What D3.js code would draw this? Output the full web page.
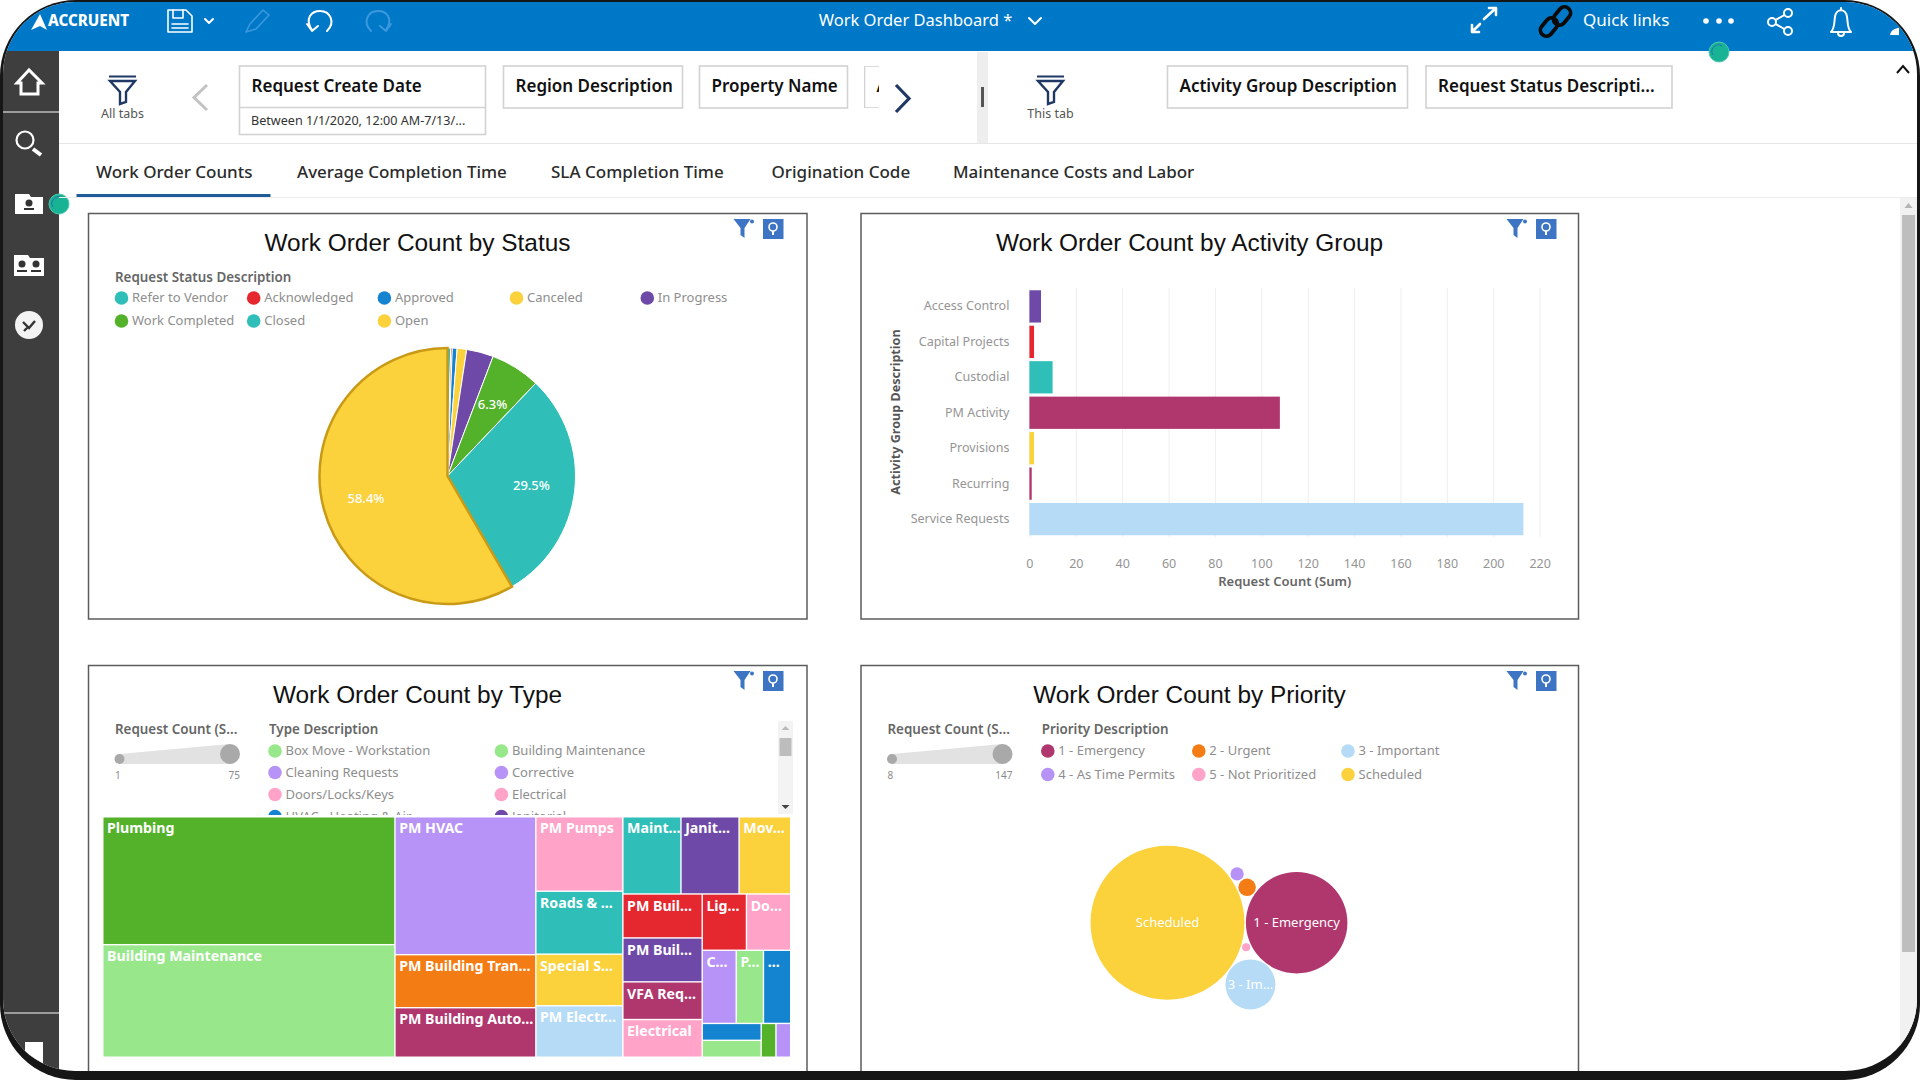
<!DOCTYPE html>
<html>
<head>
<meta charset="utf-8">
<title>Work Order Dashboard</title>
<script src="https://d3js.org/d3.v7.min.js"></script>
<style>
    html, body { margin: 0; padding: 0; background: #fff; overflow: hidden; }
    text { font-family: "Noto Sans", sans-serif; }
    .title { font-family: "Liberation Sans", sans-serif; font-size: 24.4px; fill: #111; text-anchor: middle; }
    .legendTitle { font-size: 13.4px; font-weight: 600; fill: #666; }
    .legendText { font-size: 13px; fill: #8e8e8e; }
    .tab { font-size: 17px; font-weight: 500; fill: #2b2b2b; }
    .filter { font-size: 17px; font-weight: 600; fill: #111; }
</style>
</head>
<body>
<div id="graph"></div>
<script>
var width = 1920;
var height = 1080;

var green = '#54b22a', lightGreen = '#98e88b', lilac = '#b792f7', pink = '#ffa3c9', orange = '#f47c14',
    magenta = '#b0366e', teal = '#2fbfb8', yellow = '#fbd13c', lightBlue = '#b5dbf7', purple = '#6f49a8',
    red = '#e5282f', blue = '#1484d0';

// pie
var statusNames = ['Refer to Vendor', 'Acknowledged', 'Approved', 'Canceled', 'In Progress', 'Work Completed', 'Closed', 'Open'];
var statusPercents = [0.4, 0.2, 0.6, 1.2, 3.4, 6.3, 29.5, 58.4];
var statusColors = [teal, red, blue, yellow, purple, green, teal, yellow];

// bars
var activityNames = ['Access Control', 'Capital Projects', 'Custodial', 'PM Activity', 'Provisions', 'Recurring', 'Service Requests'];
var activityCounts = [5, 2, 10, 108, 2, 1, 213];
var activityColors = [purple, red, teal, magenta, yellow, magenta, lightBlue];
var activityTicks = [0, 20, 40, 60, 80, 100, 120, 140, 160, 180, 200, 220];

// treemap
var typeLabels = ['Plumbing', 'Building Maintenance', 'PM HVAC', 'PM Building Tran...', 'PM Building Auto...',
    'PM Pumps', 'Roads & ...', 'Special S...', 'PM Electr...', 'Maint...', 'Janit...', 'Mov...',
    'PM Buil...', 'PM Buil...', 'VFA Req...', 'Electrical', 'Lig...', 'Do...', 'C...', 'P...', '...', '', '', '', ''];
var typeCounts = [75, 66, 39, 15, 14, 13, 11, 9, 9, 9, 9, 8, 7, 7, 6, 6, 5, 5, 5, 4, 4, 2, 2, 1, 1];
var typeColors = [green, lightGreen, lilac, orange, magenta, pink, teal, yellow, lightBlue, teal, purple, yellow,
    red, purple, magenta, pink, red, pink, lilac, lightGreen, blue, blue, lightGreen, green, lilac];
// indexes into the type arrays, nested the way the tiles are grouped
var typeGroups = [[0, 1], [2, 3, 4], [5, 6, 7, 8],
    [[9, 10, 11], [[12, 13, 14, 15], [[16, 17], [18, 19, 20], [[21, 22], 23, 24]]]]];
var typeLegend = ['Box Move - Workstation', 'Building Maintenance', 'Cleaning Requests', 'Corrective',
    'Doors/Locks/Keys', 'Electrical', 'HVAC - Heating & Air', 'Janitorial'];
var typeLegendColors = [lightGreen, lightGreen, lilac, lilac, pink, pink, blue, purple];

// bubbles
var priorityNames = ['Scheduled', '1 - Emergency', '3 - Important', '2 - Urgent', '4 - As Time Permits', '5 - Not Prioritized'];
var priorityCounts = [147, 97, 48, 17, 13, 8];
var priorityColors = [yellow, magenta, lightBlue, orange, lilac, pink];
var priorityLabels = ['Scheduled', '1 - Emergency', '3 - Im...', '', '', ''];
var priorityLegend = ['1 - Emergency', '2 - Urgent', '3 - Important', '4 - As Time Permits', '5 - Not Prioritized', 'Scheduled'];
var priorityLegendColors = [magenta, orange, lightBlue, lilac, pink, yellow];

var tabNames = ['Work Order Counts', 'Average Completion Time', 'SLA Completion Time', 'Origination Code', 'Maintenance Costs and Labor'];

var svg = d3.select('#graph')
    .append('svg')
    .attr('width', width)
    .attr('height', height)
    .style('display', 'block');

var defs = svg.append('defs');
defs.append('clipPath').attr('id', 'screen')
    .append('rect').attr('x', 3).attr('y', 2).attr('width', 1914).attr('height', 1069).attr('rx', 72);
defs.append('clipPath').attr('id', 'legendClip')
    .append('rect').attr('x', 262).attr('y', 720).attr('width', 510).attr('height', 95);
defs.append('clipPath').attr('id', 'chipClip')
    .append('rect').attr('x', 864).attr('y', 66).attr('width', 15).attr('height', 42);

// black frame of the screenshot
svg.append('rect').attr('x', 0).attr('y', 0).attr('width', width).attr('height', height).attr('rx', 76).attr('fill', '#161616');
var screen = svg.append('g').attr('clip-path', 'url(#screen)');
screen.append('rect').attr('width', width).attr('height', height).attr('fill', '#fff');

drawTopBar();
drawSideBar();
drawFilters();
drawTabs();

var card1 = drawCard(88.5, 213.5, 718.5, 405.5, 'Work Order Count by Status', 417.5, 242, 733.5);
var card2 = drawCard(861, 213.5, 717.5, 405.5, 'Work Order Count by Activity Group', 1189.5, 242, 1506.5);
var card3 = drawCard(88.5, 665.5, 718.5, 440, 'Work Order Count by Type', 417.5, 694, 733.5);
var card4 = drawCard(861, 665.5, 717.5, 440, 'Work Order Count by Priority', 1189.5, 694, 1506.5);

drawPie();
drawBars();
drawTreemap();
drawBubbles();

function drawCard(x, y, w, h, title, titleX, titleY, ix) {
    screen.append('rect').attr('x', x).attr('y', y).attr('width', w).attr('height', h)
        .attr('fill', '#fff').attr('stroke', '#5c5c5c').attr('stroke-width', 1.5);
    screen.append('text').attr('class', 'title').attr('x', titleX).attr('y', titleY).attr('dy', '0.35em').text(title);
    // funnel and bulb buttons
    var iy = y + 5.5;
    screen.append('path').attr('fill', '#3d75c4')
        .attr('d', 'M' + ix + ' ' + iy + 'h17l-6 9v10l-4-3v-7z');
    screen.append('circle').attr('cx', ix + 18.5).attr('cy', iy + 2.5).attr('r', 2).attr('fill', '#3d75c4');
    screen.append('rect').attr('x', ix + 29.5).attr('y', iy).attr('width', 20.5).attr('height', 20).attr('fill', '#3d75c4');
    screen.append('circle').attr('cx', ix + 39.5).attr('cy', iy + 8).attr('r', 4).attr('fill', 'none').attr('stroke', '#fff').attr('stroke-width', 1.6);
    screen.append('line').attr('x1', ix + 39.5).attr('x2', ix + 39.5).attr('y1', iy + 12).attr('y2', iy + 16).attr('stroke', '#fff').attr('stroke-width', 2);
    return screen.append('g');
}

function legend(g, names, colors, columns, rows, clip) {
    var item = g.append('g').attr('clip-path', clip || null)
        .selectAll('g').data(names).enter().append('g')
        .attr('transform', function(d, i) {
            return 'translate(' + columns[i % columns.length] + ',' + rows[Math.floor(i / columns.length)] + ')';
        });
    item.append('circle').attr('r', 6.8).attr('fill', function(d, i) { return colors[i]; });
    item.append('text').attr('class', 'legendText').attr('x', 10.5).attr('dy', '0.32em').text(function(d) { return d; });
}

function sizeLegend(g, x, minLabel, maxLabel) {
    var sx = x + 4.5, bx = x + 115;
    g.append('path').attr('fill', '#e2e2e2')
        .attr('d', 'M' + sx + ' 754L' + bx + ' 744V764L' + sx + ' 764z');
    g.append('circle').attr('cx', sx).attr('cy', 759).attr('r', 5).attr('fill', '#a9a9a9');
    g.append('circle').attr('cx', bx).attr('cy', 754).attr('r', 10).attr('fill', '#a9a9a9');
    g.append('text').attr('x', x).attr('y', 775).attr('dy', '0.35em').style('font-size', '10px').attr('fill', '#8a8a8a').text(minLabel);
    g.append('text').attr('x', bx + 10).attr('y', 775).attr('dy', '0.35em').attr('text-anchor', 'end').style('font-size', '10px').attr('fill', '#8a8a8a').text(maxLabel);
}

function drawPie() {
    var centerX = 447.5, centerY = 476, radius = 128;
    var g = card1.append('g');
    g.append('text').attr('class', 'legendTitle').attr('x', 115).attr('y', 277).attr('dy', '0.35em').text('Request Status Description');
    legend(g, statusNames, statusColors, [121.5, 253.7, 384.4, 516.5, 647.3], [298, 321]);

    var pie = d3.pie().sort(null);
    var arc = d3.arc().innerRadius(0).outerRadius(radius);
    var labelArc = d3.arc().innerRadius(radius * 0.66).outerRadius(radius * 0.66);
    var arcs = pie(statusPercents);
    var plot = g.append('g').attr('transform', 'translate(' + centerX + ',' + centerY + ')');
    plot.selectAll('path').data(arcs).enter().append('path')
        .attr('d', arc)
        .attr('fill', function(d, i) { return statusColors[i]; })
        .attr('stroke', function(d, i) { return i === 7 ? '#c99a16' : '#fff'; })
        .attr('stroke-width', function(d, i) { return i === 7 ? 2.5 : 1; });
    plot.selectAll('text').data(arcs.filter(function(d) { return d.data > 5; })).enter().append('text')
        .attr('transform', function(d) { return 'translate(' + labelArc.centroid(d) + ')'; })
        .attr('text-anchor', 'middle').attr('dy', '0.35em')
        .style('font-size', '13px').style('font-weight', 500).attr('fill', '#fff')
        .text(function(d) { return d.data.toFixed(1) + '%'; });
}

function drawBars() {
    var g = card2.append('g');
    var x = d3.scaleLinear().domain([0, 220]).range([1029.4, 1539.6]);
    var y = d3.scaleBand().domain(activityNames).range([288.5, 537]).paddingInner(0.09).paddingOuter(0.05);

    var xAxis = d3.axisBottom(x).tickValues(activityTicks).tickSize(-249).tickPadding(22);
    var ax = g.append('g').attr('transform', 'translate(0,537)').call(xAxis);
    ax.select('.domain').remove();
    ax.selectAll('line').attr('stroke', '#efefef');
    ax.selectAll('text').style('font-size', '12.5px').attr('fill', '#959595');

    var yAxis = d3.axisLeft(y).tickSize(0).tickPadding(20);
    var ay = g.append('g').attr('transform', 'translate(1029.4,0)').call(yAxis);
    ay.select('.domain').remove();
    ay.selectAll('text').style('font-size', '12.5px').attr('fill', '#959595');

    g.selectAll('rect.bar').data(activityNames).enter().append('rect')
        .attr('class', 'bar')
        .attr('x', x(0))
        .attr('y', function(d) { return y(d); })
        .attr('width', function(d, i) { return x(activityCounts[i]) - x(0); })
        .attr('height', y.bandwidth())
        .attr('fill', function(d, i) { return activityColors[i]; });

    g.append('text').attr('x', 1284.7).attr('y', 581).attr('dy', '0.35em').attr('text-anchor', 'middle')
        .style('font-size', '13px').style('font-weight', 600).attr('fill', '#666').text('Request Count (Sum)');
    g.append('text').attr('transform', 'translate(896,412) rotate(-90)').attr('dy', '0.35em').attr('text-anchor', 'middle')
        .style('font-size', '12.6px').style('font-weight', 700).attr('fill', '#555').text('Activity Group Description');
}

function drawTreemap() {
    var g = card3.append('g');
    g.append('text').attr('class', 'legendTitle').attr('x', 115).attr('y', 729).attr('dy', '0.35em').text('Request Count (S...');
    sizeLegend(g, 115, '1', '75');
    g.append('text').attr('class', 'legendTitle').attr('x', 269).attr('y', 729).attr('dy', '0.35em').text('Type Description');
    legend(g, typeLegend, typeLegendColors, [275, 501.4], [751, 772.5, 794.5, 816.5], 'url(#legendClip)');

    // scrollbar of the legend
    g.append('rect').attr('x', 778).attr('y', 721).attr('width', 15).attr('height', 93).attr('fill', '#f3f3f3');
    g.append('rect').attr('x', 779.5).attr('y', 738).attr('width', 12).attr('height', 18).attr('fill', '#bdbdbd');
    g.append('path').attr('d', 'M785.5 726l4 4h-8z').attr('fill', '#bbb');
    g.append('path').attr('d', 'M785.5 809l4 -4h-8z').attr('fill', '#444');

    var root = d3.hierarchy({ children: typeGroups }, function(d) {
        if (Array.isArray(d)) { return d; }
        return d.children;
    }).sum(function(d) {
        return typeof d === 'number' ? typeCounts[d] : 0;
    });

    // alternate columns and rows down the tree
    d3.treemap()
        .size([686.5, 239])
        .paddingInner(1.4)
        .tile(function(node, x0, y0, x1, y1) {
            (node.depth % 2 === 0 ? d3.treemapDice : d3.treemapSlice)(node, x0, y0, x1, y1);
        })(root);

    var cell = g.append('g').attr('transform', 'translate(103.5,817.5)')
        .selectAll('g').data(root.leaves()).enter().append('g')
        .attr('transform', function(d) { return 'translate(' + d.x0 + ',' + d.y0 + ')'; });
    cell.append('rect')
        .attr('width', function(d) { return d.x1 - d.x0; })
        .attr('height', function(d) { return d.y1 - d.y0; })
        .attr('fill', function(d) { return typeColors[d.data]; });
    cell.append('text')
        .attr('x', 3.5).attr('y', 11).attr('dy', '0.35em')
        .style('font-size', '14.2px').style('font-weight', 700).attr('fill', '#fff')
        .text(function(d) { return typeLabels[d.data]; });
}

function drawBubbles() {
    var g = card4.append('g');
    g.append('text').attr('class', 'legendTitle').attr('x', 887.5).attr('y', 729).attr('dy', '0.35em').text('Request Count (S...');
    sizeLegend(g, 887.5, '8', '147');
    g.append('text').attr('class', 'legendTitle').attr('x', 1041.7).attr('y', 729).attr('dy', '0.35em').text('Priority Description');
    legend(g, priorityLegend, priorityLegendColors, [1047.8, 1198.8, 1348], [751, 774.5]);

    var r = d3.scaleLinear().domain([8, 147]).range([4, 77]);
    var pad = 0.7;
    var makeCircle = function(i) { return { index: i, r: r(priorityCounts[i]) + pad }; };

    // the smallest bubble sits in the gap between the two biggest, so it gets its own pass
    var main = d3.packSiblings([0, 1, 2, 3, 4].map(makeCircle));
    var gap = d3.packSiblings([0, 1, 5].map(makeCircle));
    var smallest = gap[2];
    smallest.x += main[0].x - gap[0].x;
    smallest.y += main[0].y - gap[0].y;
    var circles = main.concat([smallest]);

    var anchor = main[0];
    var node = g.append('g').attr('transform', 'translate(' + (1167.5 - anchor.x) + ',' + (922.7 - anchor.y) + ')')
        .selectAll('g').data(circles).enter().append('g')
        .attr('transform', function(d) { return 'translate(' + d.x + ',' + d.y + ')'; });
    node.append('circle').attr('r', function(d) { return d.r - pad; })
        .attr('fill', function(d) { return priorityColors[d.index]; });
    node.append('text').attr('text-anchor', 'middle').attr('dy', '0.35em')
        .style('font-size', '13px').attr('fill', '#fff')
        .text(function(d) { return priorityLabels[d.index]; });
}

function drawTopBar() {
    screen.append('rect').attr('width', width).attr('height', 51).attr('fill', '#0078c8');
    var bar = screen.append('g');
    var line = function(d, color, w) {
        bar.append('path').attr('d', d).attr('fill', 'none').attr('stroke', color || '#fff').attr('stroke-width', w || 2)
            .attr('stroke-linecap', 'round').attr('stroke-linejoin', 'round');
    };
    // logo
    bar.append('path').attr('d', 'M31 30L40 14L47 30L40 26z').attr('fill', '#fff');
    bar.append('text').attr('x', 48).attr('y', 21).attr('dy', '0.35em').style('font-size', '15.2px').style('font-weight', 800).attr('fill', '#fff').text('ACCRUENT');
    // save
    line('M168 10h18l6 6v16h-24z', '#fff', 1.6);
    line('M173 10v8h10v-8M172 24h16M172 28h16', '#fff', 1.6);
    line('M205 19l4 4l4 -4');
    // pencil, undo, redo
    line('M246 32l4 -8l13 -14l6 5l-13 14z', '#3c98dc', 1.6);
    line('M312 30C304 18 312 11 320 11C330 11 336 22 327 31M307 24L312 31L318 26');
    line('M386 30C394 18 386 11 378 11C368 11 362 22 371 31M391 24L386 31L380 26', '#3c98dc', 2);
    bar.append('text').attr('x', 915.5).attr('y', 20).attr('dy', '0.35em').attr('text-anchor', 'middle').style('font-size', '16.5px').attr('fill', '#fff').text('Work Order Dashboard *');
    line('M1029 18l6 6l6 -6');
    // expand
    line('M1472 32l8 -8M1484 19l12 -11M1489 8h7v7M1472 25v7h7', '#fff', 2.6);
    // link icon
    [[1549, 27], [1562, 16]].forEach(function(p) {
        bar.append('rect').attr('x', p[0] - 10).attr('y', p[1] - 6).attr('width', 20).attr('height', 12).attr('rx', 6)
            .attr('transform', 'rotate(-50 ' + p[0] + ' ' + p[1] + ')')
            .attr('fill', 'none').attr('stroke', '#0a0a0a').attr('stroke-width', 3.8);
    });
    bar.append('text').attr('x', 1583).attr('y', 20).attr('dy', '0.35em').style('font-size', '17px').attr('fill', '#fff').text('Quick links');
    [1706, 1719, 1731].forEach(function(x) {
        bar.append('circle').attr('cx', x).attr('cy', 21).attr('r', 2.8).attr('fill', '#fff');
    });
    // share
    line('M1788 13L1772 22L1788 31');
    [[1788, 13], [1772, 22], [1788, 31]].forEach(function(p) {
        bar.append('circle').attr('cx', p[0]).attr('cy', p[1]).attr('r', 4).attr('fill', '#0078c8').attr('stroke', '#fff').attr('stroke-width', 2);
    });
    // bell
    line('M1831 32c4 -4 3 -10 4 -15c1 -9 11 -9 12 0c1 5 0 11 4 15zM1841 8v2M1838 33a3 3 0 0 0 6 0');
    bar.append('path').attr('d', 'M1890 35c1 -5 5 -7 9 -7v7z').attr('fill', '#fff');
    statusDot(1719, 52);
}

function statusDot(x, y) {
    screen.append('circle').attr('cx', x).attr('cy', y).attr('r', 10).attr('fill', '#17b394').attr('stroke', '#4fc9b0').attr('stroke-width', 1).attr('class', 'dot');
    screen.append('path').attr('d', 'M' + (x - 6) + ' ' + (y + 3) + 'a6.5 6.5 0 0 1 9 -9').attr('fill', 'none').attr('stroke', '#2a6fa8').attr('stroke-width', 1);
}

function drawSideBar() {
    screen.append('rect').attr('x', 0).attr('y', 51).attr('width', 59).attr('height', 1030).attr('fill', '#3e3e3e');
    screen.append('line').attr('x1', 0).attr('x2', 59).attr('y1', 112).attr('y2', 112).attr('stroke', '#bcbcbc').attr('stroke-width', 1.5);
    screen.append('line').attr('x1', 0).attr('x2', 59).attr('y1', 1013).attr('y2', 1013).attr('stroke', '#bcbcbc').attr('stroke-width', 1.5);
    // home
    screen.append('path').attr('d', 'M29 70L17 83H21V94H38V83H42z').attr('fill', 'none').attr('stroke', '#fff').attr('stroke-width', 3).attr('stroke-linejoin', 'miter');
    // search
    screen.append('circle').attr('cx', 25).attr('cy', 140).attr('r', 8.5).attr('fill', 'none').attr('stroke', '#fff').attr('stroke-width', 2.2);
    screen.append('line').attr('x1', 33).attr('y1', 149).attr('x2', 41).attr('y2', 155).attr('stroke', '#fff').attr('stroke-width', 4);
    // folders
    screen.append('path').attr('d', 'M15 194H29L31 197H43V214H15z').attr('fill', '#fff');
    screen.append('circle').attr('cx', 29).attr('cy', 203).attr('r', 3.5).attr('fill', '#333');
    screen.append('rect').attr('x', 24).attr('y', 208).attr('width', 10).attr('height', 2).attr('fill', '#333');
    screen.append('path').attr('d', 'M14 255H28L30 258H44V276H14z').attr('fill', '#fff');
    [22, 36].forEach(function(x) {
        screen.append('circle').attr('cx', x).attr('cy', 264).attr('r', 3.5).attr('fill', '#333');
        screen.append('rect').attr('x', x - 5).attr('y', 270).attr('width', 10).attr('height', 2).attr('fill', '#333');
    });
    // check
    screen.append('circle').attr('cx', 29).attr('cy', 325).attr('r', 14).attr('fill', '#f3f3f3');
    screen.append('path').attr('d', 'M23 322l6 6l6 -7M24 331l4 -4').attr('fill', 'none').attr('stroke', '#333').attr('stroke-width', 2.4);
    // cut off icon at the bottom
    screen.append('rect').attr('x', 25).attr('y', 1042).attr('width', 18).attr('height', 30).attr('fill', '#fff');
    statusDot(59, 204);
}

function chip(x, w, label, h, clip) {
    var g = screen.append('g').attr('clip-path', clip || null);
    g.append('rect').attr('x', x).attr('y', 66).attr('width', w).attr('height', h)
        .attr('fill', '#fff').attr('stroke', '#d2d2d2').attr('stroke-width', 1.6);
    g.append('text').attr('class', 'filter').attr('x', x + 12).attr('y', 86).attr('dy', '0.35em').text(label);
}

function funnel(x, label) {
    screen.append('path').attr('d', 'M' + x + ' 76.5h27').attr('stroke', '#1f3864').attr('stroke-width', 2);
    screen.append('path').attr('d', 'M' + (x + 1) + ' 81h25l-9 11v10l-6 2v-12z').attr('fill', 'none').attr('stroke', '#1f3864').attr('stroke-width', 2.4);
    screen.append('text').attr('x', x + 13.5).attr('y', 114).attr('dy', '0.35em').attr('text-anchor', 'middle')
        .style('font-size', '12.5px').attr('fill', '#555').text(label);
}

function drawFilters() {
    funnel(109, 'All tabs');
    funnel(1037, 'This tab');
    screen.append('path').attr('d', 'M207 85L194 97.5L207 110').attr('fill', 'none').attr('stroke', '#c2c2c2').attr('stroke-width', 3);
    screen.append('path').attr('d', 'M896 85L909 98.5L896 112').attr('fill', 'none').attr('stroke', '#1f3864').attr('stroke-width', 3.2);

    chip(239.5, 246, 'Request Create Date', 68.5);
    screen.append('line').attr('x1', 239.5).attr('x2', 485.5).attr('y1', 107.5).attr('y2', 107.5).attr('stroke', '#d2d2d2').attr('stroke-width', 1.6);
    screen.append('text').attr('x', 251).attr('y', 121).attr('dy', '0.35em').style('font-size', '12.6px').attr('fill', '#333').text('Between 1/1/2020, 12:00 AM-7/13/...');
    chip(503.5, 179, 'Region Description', 42);
    chip(699.5, 148, 'Property Name', 42);
    chip(864.5, 30, 'A', 42, 'url(#chipClip)');
    chip(1167.5, 240, 'Activity Group Description', 42);
    chip(1426, 246, 'Request Status Descripti...', 42);

    // splitter between the filter areas
    screen.append('rect').attr('x', 977).attr('y', 52).attr('width', 11).attr('height', 91).attr('fill', '#eeeeee');
    screen.append('rect').attr('x', 981).attr('y', 87).attr('width', 3).attr('height', 20).attr('fill', '#555');
    screen.append('path').attr('d', 'M1897 73l6 -7l6 7').attr('fill', 'none').attr('stroke', '#111').attr('stroke-width', 2);
    screen.append('line').attr('x1', 59).attr('x2', width).attr('y1', 143.5).attr('y2', 143.5).attr('stroke', '#e6e6e6');
}

function drawTabs() {
    var tabX = [96, 297, 551, 771.5, 953];
    screen.selectAll('text.tab').data(tabNames).enter().append('text')
        .attr('class', 'tab')
        .attr('x', function(d, i) { return tabX[i]; })
        .attr('y', 172.5).attr('dy', '0.35em')
        .text(function(d) { return d; });
    screen.append('rect').attr('x', 76.5).attr('y', 194).attr('width', 194).attr('height', 3).attr('fill', '#205c99');
    screen.append('line').attr('x1', 59).attr('x2', width).attr('y1', 197.5).attr('y2', 197.5).attr('stroke', '#ececec');
    // page scrollbar
    screen.append('rect').attr('x', 1900).attr('y', 198).attr('width', 17).attr('height', 860).attr('fill', '#f1f1f1');
    screen.append('path').attr('d', 'M1908.5 203l4 5h-8z').attr('fill', '#b5b5b5');
    screen.append('rect').attr('x', 1902).attr('y', 215).attr('width', 13).attr('height', 737).attr('fill', '#bebebe');
}
</script>
</body>
</html>
